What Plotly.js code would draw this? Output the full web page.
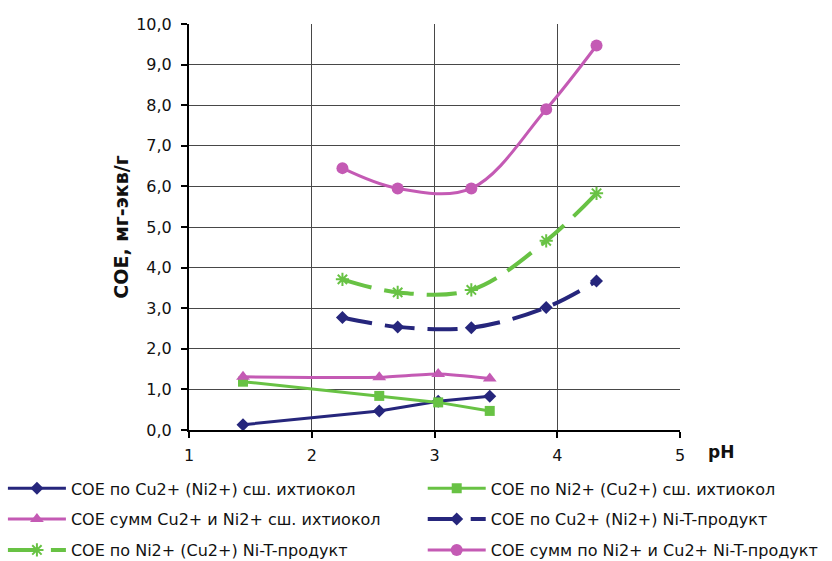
<!DOCTYPE html>
<html>
<head>
<meta charset="utf-8">
<script src="https://cdn.plot.ly/plotly-3.0.1.min.js"></script>
<style>html,body{margin:0;padding:0;background:#fff;}#chart{width:832px;height:561px;}</style>
</head>
<body>
<div id="chart"></div>
<script>
// pH values and sorption capacity (СОЕ, мг-экв/г)
const phIchthyocol = [1.44, 2.55, 3.03, 3.45];
const cuIchthyocol = [0.13, 0.47, 0.71, 0.83];
const niIchthyocol = [1.19, 0.84, 0.68, 0.47];
const sumIchthyocol = [1.31, 1.30, 1.38, 1.27];

const phNiT = [2.25, 2.70, 3.30, 3.91, 4.32];
const cuNiT = [2.77, 2.54, 2.52, 3.02, 3.67];
const niNiT = [3.71, 3.39, 3.45, 4.66, 5.83];
const sumNiT = [6.45, 5.95, 5.95, 7.90, 9.47];

const seriesNames = [
  "СОЕ по Cu2+ (Ni2+) сш. ихтиокол",
  "СОЕ по Ni2+ (Cu2+) сш. ихтиокол",
  "СОЕ сумм Cu2+ и Ni2+ сш. ихтиокол",
  "СОЕ по Cu2+ (Ni2+) Ni-T-продукт",
  "СОЕ по Ni2+ (Cu2+) Ni-T-продукт",
  "СОЕ сумм по Ni2+ и Cu2+ Ni-T-продукт"
];

const navy = "#26267c";
const green = "#68c244";
const magenta = "#c45ab4";
const dashPat = "30px,13px";
const FONT = "DejaVu Sans, Liberation Sans, Arial, sans-serif";

const traces = [
  {x: phIchthyocol, y: cuIchthyocol, name: seriesNames[0], legend: "legend", legendgroup: "a",
   mode: "lines+markers", line: {color: navy, width: 3},
   marker: {symbol: "diamond", size: 10, color: navy}},
  {x: phIchthyocol, y: niIchthyocol, name: seriesNames[1], legend: "legend2", legendgroup: "b",
   mode: "lines+markers", line: {color: green, width: 3},
   marker: {symbol: "square", size: 10, color: green}},
  {x: phIchthyocol, y: sumIchthyocol, name: seriesNames[2], legend: "legend", legendgroup: "c",
   mode: "lines+markers", line: {color: magenta, width: 3, shape: "spline", smoothing: 0.6},
   marker: {symbol: "triangle-up", size: 12, color: magenta}},
  {x: phNiT, y: cuNiT, name: seriesNames[3], legend: "legend2", legendgroup: "d",
   mode: "lines+markers", line: {color: navy, width: 4, dash: dashPat, shape: "spline", smoothing: 1},
   marker: {symbol: "diamond", size: 10, color: navy}},
  {x: phNiT, y: niNiT, name: seriesNames[4], legend: "legend", legendgroup: "e",
   mode: "lines+markers", line: {color: green, width: 4, dash: dashPat, shape: "spline", smoothing: 1},
   marker: {symbol: "asterisk-open", size: 11, color: green, line: {color: green, width: 2}}},
  {x: phNiT, y: sumNiT, name: seriesNames[5], legend: "legend2", legendgroup: "f",
   mode: "lines+markers", line: {color: magenta, width: 3, shape: "spline", smoothing: 1},
   marker: {symbol: "circle", size: 12, color: magenta}}
];

const legendCommon = {
  orientation: "v", xanchor: "left", yanchor: "top", bgcolor: "rgba(0,0,0,0)",
  font: {family: FONT, size: 16, color: "#111"},
  tracegroupgap: 7, itemwidth: 58, traceorder: "grouped"
};

const layout = {
  width: 832, height: 561,
  margin: {l: 189, r: 152, t: 24, b: 131, autoexpand: false},
  paper_bgcolor: "#fff", plot_bgcolor: "#fff",
  separators: ", ",
  showlegend: true,
  font: {family: FONT, size: 16, color: "#111"},
  xaxis: {
    range: [1, 5], dtick: 1, tick0: 1, showgrid: true, gridcolor: "#484848", gridwidth: 1,
    zeroline: false, showline: true, linecolor: "#000", linewidth: 2, automargin: false,
    ticks: "outside", ticklen: 6, tickcolor: "#000", tickwidth: 2, ticklabelstandoff: 4,
    tickfont: {family: FONT, size: 16, color: "#111"}
  },
  yaxis: {
    range: [0, 10], dtick: 1, tick0: 0, tickformat: ".1f", showgrid: true, gridcolor: "#484848", gridwidth: 1,
    zeroline: false, showline: true, linecolor: "#000", linewidth: 2, automargin: false,
    ticks: "outside", ticklen: 6, tickcolor: "#000", tickwidth: 2, ticklabelstandoff: 6,
    tickfont: {family: FONT, size: 16, color: "#111"},
    title: {text: "СОЕ, мг-экв/г", font: {family: FONT, size: 19, weight: "bold", color: "#111"}, standoff: 3}
  },
  legend: Object.assign({}, legendCommon, {x: -0.379, y: -0.102}),
  legend2: Object.assign({}, legendCommon, {x: 0.476, y: -0.102}),
  annotations: [{
    text: "pH", xref: "paper", yref: "paper", x: 1, y: 0, xanchor: "left", yanchor: "top",
    xshift: 26, yshift: -10, showarrow: false,
    font: {family: FONT, size: 17, weight: "bold", color: "#111"}
  }]
};

Plotly.newPlot("chart", traces, layout, {displayModeBar: false, staticPlot: true});
</script>
</body>
</html>
